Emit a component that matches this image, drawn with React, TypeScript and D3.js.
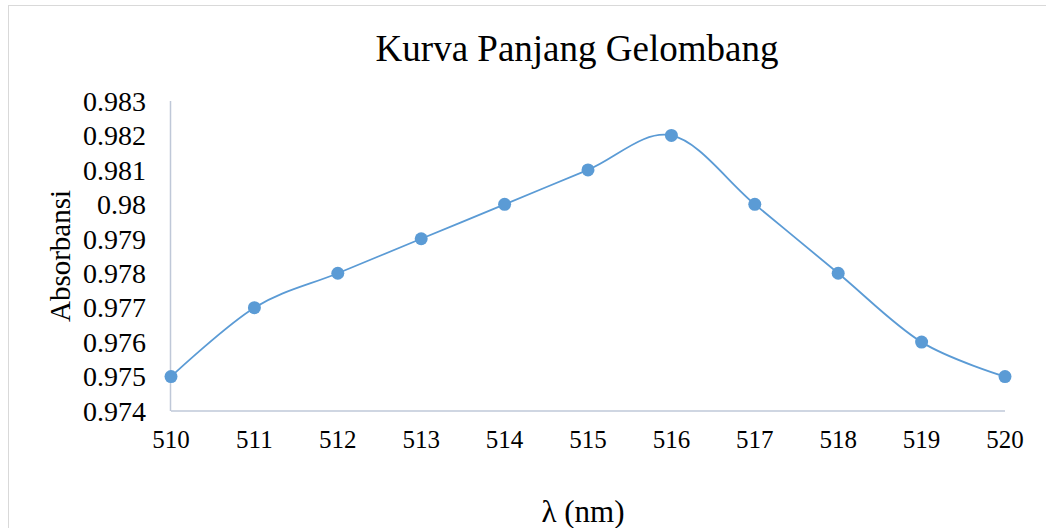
import React from "react";
import * as d3 from "d3";

const wavelengths = [510, 511, 512, 513, 514, 515, 516, 517, 518, 519, 520];
const absorbance = [0.975, 0.977, 0.978, 0.979, 0.98, 0.981, 0.982, 0.98, 0.978, 0.976, 0.975];
const yTicks = [0.974, 0.975, 0.976, 0.977, 0.978, 0.979, 0.98, 0.981, 0.982, 0.983];
const titleText = "Kurva Panjang Gelombang";
const xLabel = "λ (nm)";
const yLabel = "Absorbansi";

export default function App() {
  const W = 1046, H = 528;
  const x = d3.scaleLinear().domain([510, 520]).range([171, 1005]);
  const y = d3.scaleLinear().domain([0.974, 0.983]).range([411, 101]);
  const pts: [number, number][] = wavelengths.map((w, i) => [x(w), y(absorbance[i])]);
  const line = d3.line().curve(d3.curveCardinal.tension(0))(pts) || "";
  const font = "'Liberation Serif', 'Times New Roman', serif";
  const axisColor = "#BFC8D8";
  return (
    <svg width={W} height={H} style={{ position: "absolute", left: 0, top: 0, background: "#fff" }} fontFamily={font}>
      <rect x={8.5} y={5.5} width={W} height={H} fill="#fff" stroke="#D9D9D9" strokeWidth={1} />
      <text x={577} y={61} textAnchor="middle" fontSize={37} fill="#000">{titleText}</text>
      <line x1={x(510) - 0.5} x2={x(510) - 0.5} y1={101} y2={411} stroke={axisColor} strokeWidth={1.5} />
      <line x1={x(510)} x2={x(520)} y1={411} y2={411} stroke={axisColor} strokeWidth={1.5} />
      {yTicks.map((t) => (
        <text key={t} x={146} y={y(t)} dy="0.35em" textAnchor="end" fontSize={28} fill="#000">
          {String(+t.toFixed(3))}
        </text>
      ))}
      {wavelengths.map((w) => (
        <text key={w} x={x(w)} y={448} textAnchor="middle" fontSize={25} fill="#000">{w}</text>
      ))}
      <text transform={`translate(70,256) rotate(-90)`} textAnchor="middle" fontSize={29} fill="#000">{yLabel}</text>
      <text x={583} y={522} textAnchor="middle" fontSize={31} fill="#000">{xLabel}</text>
      <path d={line} fill="none" stroke="#5B9BD5" strokeWidth={1.8} />
      {pts.map((p, i) => (
        <circle key={i} cx={p[0]} cy={p[1]} r={6.5} fill="#5B9BD5" />
      ))}
    </svg>
  );
}
